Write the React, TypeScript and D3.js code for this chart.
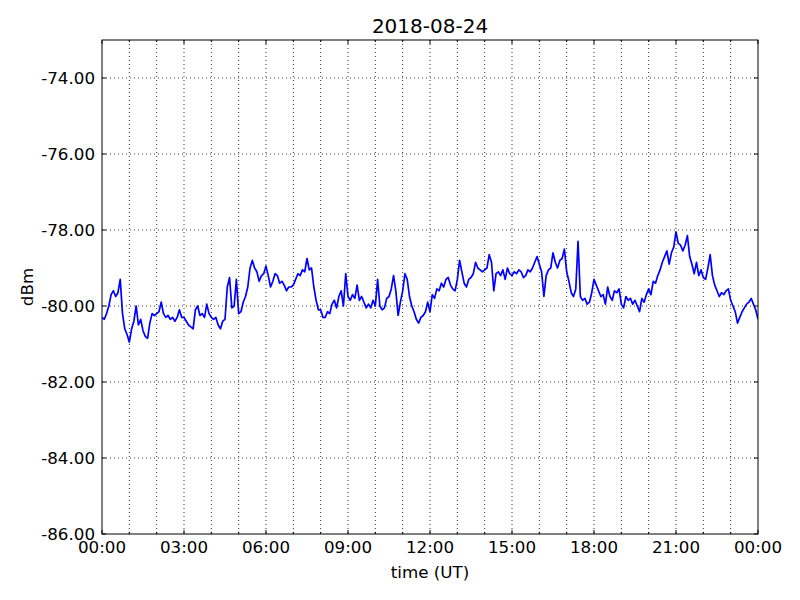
import React from "react";
import * as d3 from "d3";

const title = "2018-08-24";
const xLabel = "time (UT)";
const yLabel = "dBm";
const xTickHours = [0, 3, 6, 9, 12, 15, 18, 21, 24];
const xTickLabels = ["00:00", "03:00", "06:00", "09:00", "12:00", "15:00", "18:00", "21:00", "00:00"];
const xMinorHours = [1, 2, 4, 5, 7, 8, 10, 11, 13, 14, 16, 17, 19, 20, 22, 23];
const yTicks = [-86, -84, -82, -80, -78, -76, -74];
const yDomain = [-86, -73];
const sampleMinutes = 5;

// one row per hour, 5-minute samples
const dbm = [
  -80.3, -80.35, -80.2, -80.0, -79.7, -79.6, -79.75, -79.65, -79.3, -80.2, -80.6, -80.75,
  -80.95, -80.6, -80.4, -80.0, -80.5, -80.35, -80.65, -80.8, -80.85, -80.45, -80.2, -80.25,
  -80.2, -80.15, -79.9, -80.2, -80.3, -80.25, -80.35, -80.3, -80.4, -80.3, -80.1, -80.3,
  -80.3, -80.4, -80.5, -80.55, -80.6, -80.1, -80.0, -80.25, -80.2, -80.3, -79.95, -80.2,
  -80.3, -80.35, -80.3, -80.5, -80.6, -80.4, -80.35, -79.5, -79.25, -80.05, -80.0, -79.3,
  -80.2, -80.15, -79.9, -79.75, -79.5, -79.0, -78.8, -79.0, -79.1, -79.35, -79.2, -79.15,
  -78.95, -79.2, -79.5, -79.35, -79.15, -79.2, -79.4, -79.35, -79.45, -79.6, -79.5, -79.5,
  -79.45, -79.3, -79.15, -79.2, -79.05, -79.1, -78.75, -79.05, -79.0, -79.5, -79.85, -80.1,
  -80.1, -80.3, -80.3, -80.15, -80.2, -79.95, -79.85, -80.05, -79.75, -79.6, -80.0, -79.15,
  -79.75, -79.85, -79.7, -79.8, -79.45, -79.85, -79.75, -79.9, -80.05, -79.95, -80.05, -79.85,
  -80.0, -79.3, -80.0, -80.1, -80.05, -79.8, -79.75, -79.55, -79.2, -79.6, -80.25, -79.9,
  -79.6, -79.15, -79.3, -79.75, -80.0, -80.15, -80.35, -80.45, -80.3, -80.25, -80.15, -79.9,
  -80.15, -79.7, -79.8, -79.55, -79.6, -79.4, -79.5, -79.3, -79.25, -79.45, -79.55, -79.6,
  -79.3, -78.8, -79.1, -79.4, -79.5, -79.3, -79.25, -79.15, -78.85, -79.0, -79.05, -79.1,
  -79.05, -79.0, -78.65, -78.85, -79.6, -79.15, -79.1, -79.2, -79.05, -79.3, -79.0, -79.15,
  -79.2, -79.1, -79.15, -79.05, -79.1, -79.25, -79.2, -79.05, -79.1, -79.0, -78.85, -78.7,
  -78.9, -79.1, -79.75, -79.2, -79.05, -79.0, -78.6, -78.85, -79.0, -78.8, -78.75, -78.5,
  -79.1, -79.35, -79.65, -79.75, -79.55, -78.3, -79.75, -79.85, -79.8, -79.95, -79.9, -79.65,
  -79.3, -79.45, -79.6, -79.75, -79.7, -79.95, -79.5, -79.75, -79.85, -79.6, -79.65, -79.55,
  -79.95, -80.05, -79.75, -79.85, -79.8, -79.95, -79.85, -80.0, -80.15, -79.8, -79.9, -79.7,
  -79.55, -79.7, -79.35, -79.4, -79.2, -79.05, -78.85, -78.7, -78.55, -78.9, -78.6, -78.45,
  -78.05, -78.35, -78.4, -78.55, -78.4, -78.15, -78.7, -78.9, -79.15, -78.85, -79.2, -79.05,
  -79.25, -79.3, -79.0, -78.65, -79.2, -79.45, -79.6, -79.75, -79.65, -79.7, -79.6, -79.55,
  -79.85, -80.0, -80.15, -80.45, -80.3, -80.15, -80.05, -79.95, -79.9, -79.8, -79.95, -80.1,
  -80.35,
];

const W = 800;
const H = 600;
const L = 102;
const R = 758;
const T = 40;
const B = 534;
const FONT = "DejaVu Sans, sans-serif";

export default function App() {
  const x = d3.scaleLinear().domain([0, 24]).range([L, R]);
  const y = d3.scaleLinear().domain(yDomain).range([B, T]);
  const line = d3
    .line<number>()
    .x((_, i) => x((i * sampleMinutes) / 60))
    .y((d) => y(d));
  const pathD = line(dbm) || "";
  const allHours = [...xTickHours, ...xMinorHours];

  return (
    <svg
      width={W}
      height={H}
      style={{ position: "absolute", left: 0, top: 0, background: "#fff" }}
      fontFamily={FONT}
    >
      <rect x={0} y={0} width={W} height={H} fill="#fff" />
      {allHours
        .filter((h) => h > 0 && h < 24)
        .map((h) => (
          <line
            key={"gx" + h}
            x1={x(h)}
            x2={x(h)}
            y1={T}
            y2={B}
            stroke="#000"
            strokeWidth={0.8}
            strokeDasharray="1,3"
          />
        ))}
      {yTicks
        .filter((v) => v > yDomain[0])
        .map((v) => (
          <line
            key={"gy" + v}
            x1={L}
            x2={R}
            y1={y(v)}
            y2={y(v)}
            stroke="#000"
            strokeWidth={0.8}
            strokeDasharray="1,3"
          />
        ))}
      <clipPath id="plotclip">
        <rect x={L} y={T} width={R - L} height={B - T} />
      </clipPath>
      <path
        d={pathD}
        fill="none"
        stroke="#0000ff"
        strokeWidth={1.7}
        strokeLinejoin="round"
        clipPath="url(#plotclip)"
      />
      {xTickHours.map((h) => (
        <g key={"tx" + h}>
          <line x1={x(h)} x2={x(h)} y1={B} y2={B - 4} stroke="#000" />
          <line x1={x(h)} x2={x(h)} y1={T} y2={T + 4} stroke="#000" />
        </g>
      ))}
      {xMinorHours.map((h) => (
        <g key={"mx" + h}>
          <line x1={x(h)} x2={x(h)} y1={B} y2={B - 2} stroke="#000" />
          <line x1={x(h)} x2={x(h)} y1={T} y2={T + 2} stroke="#000" />
        </g>
      ))}
      {yTicks.map((v) => (
        <g key={"ty" + v}>
          <line x1={L} x2={L + 4} y1={y(v)} y2={y(v)} stroke="#000" />
          <line x1={R} x2={R - 4} y1={y(v)} y2={y(v)} stroke="#000" />
        </g>
      ))}
      <rect x={L} y={T} width={R - L} height={B - T} fill="none" stroke="#000" strokeWidth={1} />
      {xTickHours.map((h, i) => (
        <text key={"lx" + i} x={x(h)} y={553} textAnchor="middle" fontSize={16.7} fill="#000">
          {xTickLabels[i]}
        </text>
      ))}
      {yTicks.map((v) => (
        <text
          key={"ly" + v}
          x={95}
          y={y(v)}
          dy="0.36em"
          textAnchor="end"
          fontSize={16.7}
          fill="#000"
        >
          {v.toFixed(2)}
        </text>
      ))}
      <text x={(L + R) / 2} y={578} textAnchor="middle" fontSize={16.7} fill="#000">
        {xLabel}
      </text>
      <text
        transform={`translate(33, ${(T + B) / 2}) rotate(-90)`}
        textAnchor="middle"
        fontSize={16.7}
        fill="#000"
      >
        {yLabel}
      </text>
      <text x={(L + R) / 2} y={33} textAnchor="middle" fontSize={20} fill="#000">
        {title}
      </text>
    </svg>
  );
}
